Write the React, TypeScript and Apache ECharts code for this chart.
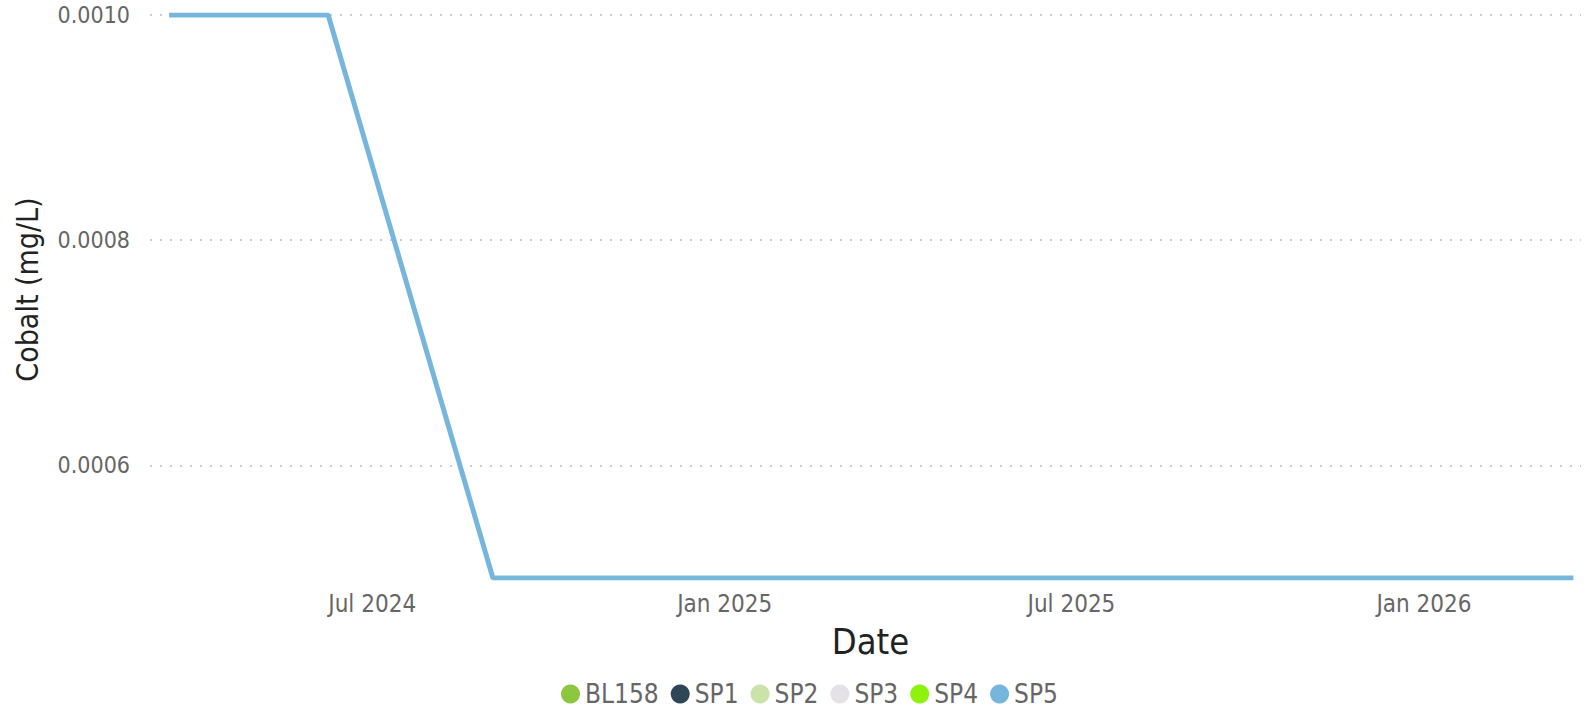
import React, { useEffect, useRef } from "react";
import * as echarts from "echarts";

// ---- data ----
const seriesNames = ["BL158", "SP1", "SP2", "SP3", "SP4", "SP5"];
const seriesColors = ["#8dc63f", "#2e4656", "#c9e3a8", "#e4e2e7", "#8ef20c", "#76b6dc"];
const sp5Dates = ["2024-03-17", "2024-06-08", "2024-09-02", "2026-03-20"];
const sp5Values = [0.001, 0.001, 0.0005, 0.0005];
const yTickValues = [0.0006, 0.0008, 0.001];
const xTickDates = ["2024-07-01", "2025-01-01", "2025-07-01", "2026-01-01"];
const xTickLabels = ["Jul 2024", "Jan 2025", "Jul 2025", "Jan 2026"];
const xRange = ["2024-03-07", "2026-03-24"];
const yRange = [0.0005, 0.001];

const ts = (d: string) => new Date(d + "T00:00:00Z").getTime();

export default function App() {
  const ref = useRef<HTMLDivElement>(null);
  useEffect(() => {
    if (!ref.current) return;
    const chart = echarts.init(ref.current, null, { renderer: "svg" });
    const font = "'DejaVu Sans Condensed', 'DejaVu Sans', Verdana, sans-serif";
    const xTickTs = xTickDates.map(ts);
    const series: any[] = seriesNames.map((name, i) => ({
      name,
      type: "line",
      color: seriesColors[i],
      showSymbol: false,
      symbol: "circle",
      lineStyle: { width: 5, color: seriesColors[i] },
      data: name === "SP5" ? sp5Dates.map((d, k) => [ts(d), sp5Values[k]]) : [],
    }));
    chart.setOption({
      animation: false,
      textStyle: { fontFamily: font },
      grid: {
        left: 150,
        right: 12,
        top: 15,
        bottom: 130,
        containLabel: false,
        outerBoundsMode: "none",
      },
      legend: {
        left: 561,
        top: 681,
        padding: 0,
        icon: "circle",
        itemWidth: 19,
        itemHeight: 19,
        itemGap: 12,
        textStyle: { fontSize: 26, color: "#666666", fontFamily: font },
        data: seriesNames,
      },
      xAxis: {
        type: "value",
        min: ts(xRange[0]),
        max: ts(xRange[1]),
        name: "Date",
        nameLocation: "middle",
        nameGap: 45,
        nameTextStyle: { fontSize: 36, color: "#222222", fontFamily: font, padding: [0, 0, 0, 10] },
        axisLine: { show: false },
        axisTick: { show: false, customValues: xTickTs },
        splitLine: { show: false },
        axisLabel: {
          customValues: xTickTs,
          fontSize: 24,
          color: "#666666",
          margin: 14,
          hideOverlap: false,
          showMinLabel: true,
          showMaxLabel: true,
          formatter: (v: number) => {
            const i = xTickTs.indexOf(v);
            return i >= 0 ? xTickLabels[i] : "";
          },
        },
      },
      yAxis: {
        type: "value",
        min: yRange[0],
        max: yRange[1],
        name: "Cobalt (mg/L)",
        nameLocation: "middle",
        nameGap: 108,
        nameTextStyle: { fontSize: 30, color: "#222222", fontFamily: font, padding: [0, 0, 0, 14] },
        axisLine: { show: false },
        axisTick: { show: false, customValues: yTickValues },
        axisLabel: {
          customValues: yTickValues,
          fontSize: 23,
          color: "#666666",
          margin: 20,
          formatter: (v: number) => v.toFixed(4),
        },
        splitLine: {
          show: true,
          lineStyle: { type: [2, 8], color: "#cccccc", width: 2 },
        },
      },
      series,
    });
    return () => chart.dispose();
  }, []);
  return (
    <div
      ref={ref}
      style={{ position: "absolute", left: 0, top: 0, width: 1593, height: 708 }}
    />
  );
}
